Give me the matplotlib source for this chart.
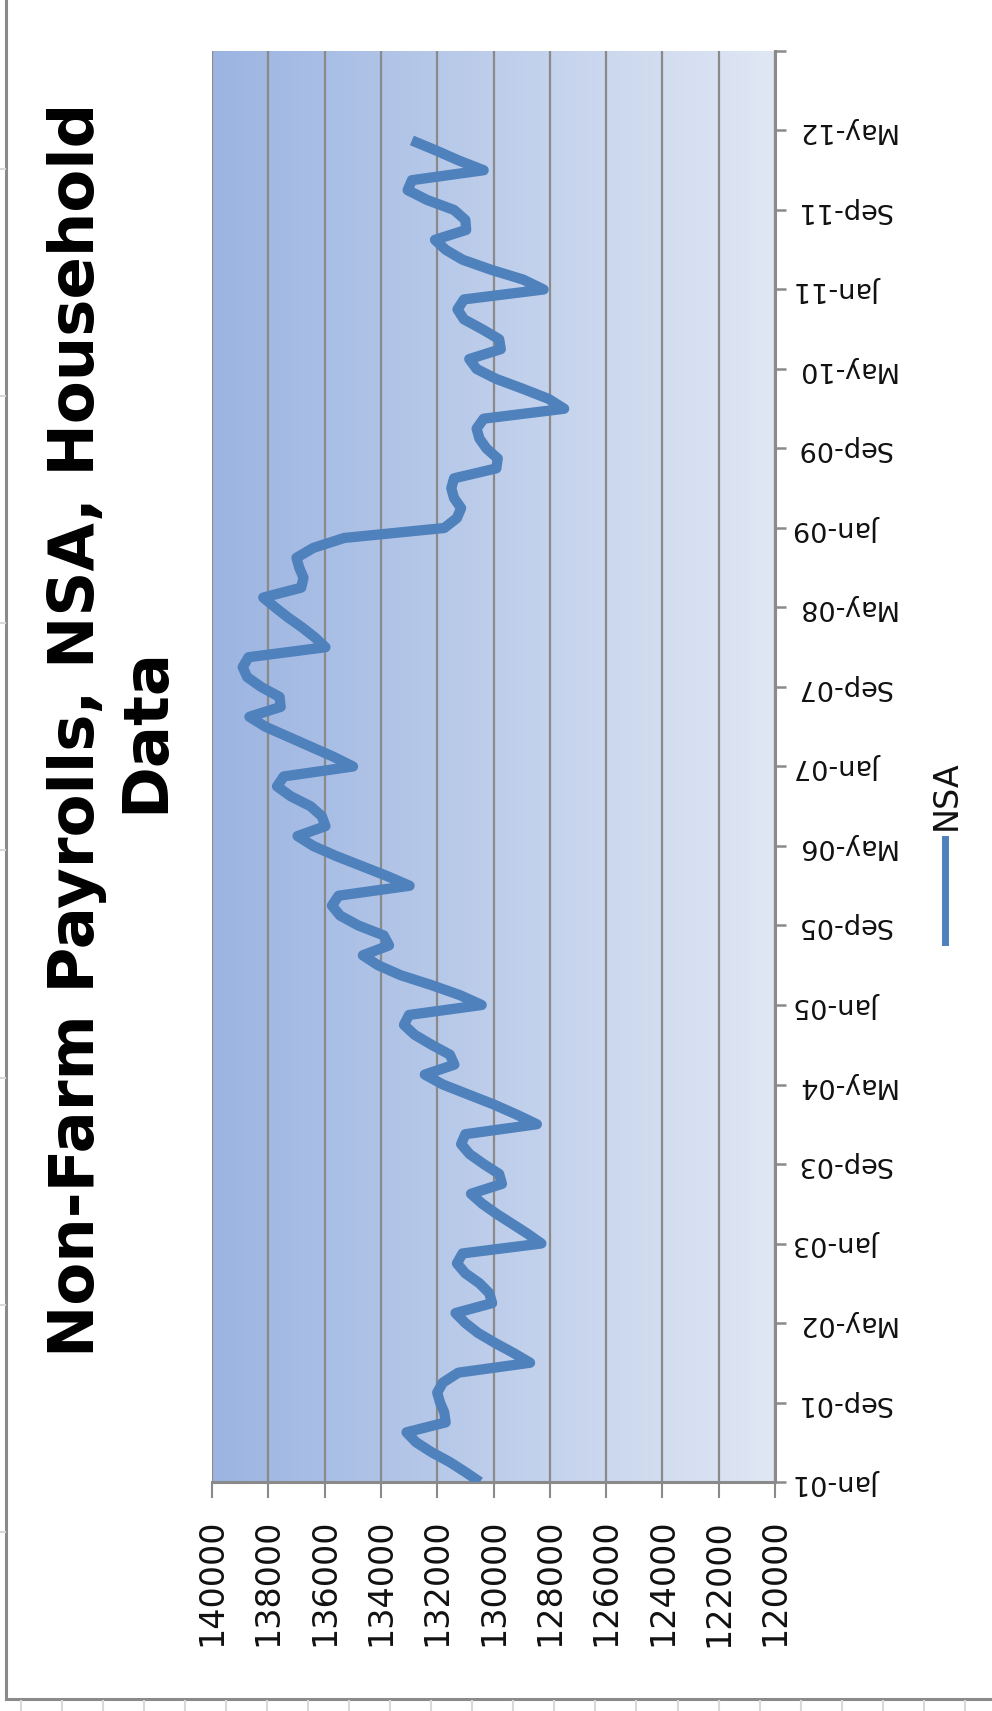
import numpy as np
import matplotlib
matplotlib.use("Agg")
from matplotlib import pyplot as plt
from matplotlib.lines import Line2D

# monthly NSA payrolls, Jan-01 .. Apr-12
nsa_values = [
    130480, 131000, 131550, 132200, 132750, 133090, 131700, 131750, 131900, 132000, 131800, 131250,  # 2001
    128700, 129300, 129950, 130550, 131000, 131350, 130050, 130150, 130500, 131000, 131300, 131100,  # 2002
    128300, 128800, 129350, 129900, 130400, 130800, 129700, 129800, 130350, 130850, 131150, 131000,  # 2003
    128460, 129200, 130000, 130900, 131800, 132440, 131390, 131550, 132200, 132800, 133180, 133000,  # 2004
    130420, 131200, 132200, 133300, 134100, 134640, 133710, 133900, 134800, 135450, 135740, 135500,  # 2005
    132980, 133800, 134700, 135600, 136400, 136960, 135970, 136100, 136500, 137200, 137690, 137450,  # 2006
    134990, 135700, 136500, 137300, 138100, 138670, 137560, 137600, 138250, 138750, 138910, 138700,  # 2007
    135970, 136350, 136800, 137300, 137750, 138180, 136830, 136750, 136900, 137000, 136400, 135300,  # 2008
    131750, 131300, 131150, 131400, 131500, 131400, 129900, 129850, 130250, 130500, 130600, 130350,  # 2009
    127490, 128050, 128950, 129900, 130600, 130860, 129740, 129800, 130400, 131050, 131280, 131050,  # 2010
    128220, 128950, 130100, 131100, 131700, 132080, 130970, 131000, 131400, 132350, 133050, 132900,  # 2011
    130350, 131250, 132050, 132900,  # 2012
]

date_labels = ["Jan-01", "Sep-01", "May-02", "Jan-03", "Sep-03", "May-04", "Jan-05", "Sep-05",
               "May-06", "Jan-07", "Sep-07", "May-08", "Jan-09", "Sep-09", "May-10", "Jan-11",
               "Sep-11", "May-12", ""]
value_ticks = [140000, 138000, 136000, 134000, 132000, 130000, 128000, 126000, 124000, 122000, 120000]

title = "Non-Farm Payrolls, NSA, Household\nData"
series_name = "NSA"

W, H = 992, 1711
GRAY = "#8a8a8a"
LINE_BLUE = "#4F81BD"

fig = plt.figure(figsize=(W / 100, H / 100), dpi=100)

# the whole Excel chart is turned on its side: values run right-to-left, dates bottom-to-top
left, right, top, bottom = 212, 775, 51, 1482
ax = fig.add_axes([left / W, 1 - bottom / H, (right - left) / W, (bottom - top) / H])

months = np.arange(len(nsa_values))
date_ticks = np.arange(0, 8 * len(date_labels), 8)

# gradient plot-area fill (dark at the 140000 side)
grad = np.linspace(0, 1, 256).reshape(1, -1)
cmap = matplotlib.colors.LinearSegmentedColormap.from_list("pa", ["#9bb4e1", "#e0e7f4"])
ax.imshow(grad, cmap=cmap, aspect="auto", extent=(0, 1, 0, 1),
          transform=ax.transAxes, zorder=0, interpolation="bilinear")

ax.plot(nsa_values, months, color=LINE_BLUE, lw=7.4, solid_joinstyle="round",
        solid_capstyle="butt", zorder=3)

ax.set_xlim(140000, 120000)
ax.set_ylim(0, date_ticks[-1])

ax.set_xticks(value_ticks)
ax.set_xticklabels([str(v) for v in value_ticks], rotation=90, fontsize=24,
                   family="DejaVu Sans", color="#111111")
ax.grid(axis="x", color=GRAY, lw=1.6, zorder=1)
ax.set_axisbelow(False)

ax.yaxis.tick_right()
ax.set_yticks(date_ticks)
ax.set_yticklabels(date_labels, rotation=180, fontsize=19.5, family="DejaVu Sans", color="#111111")
for lab in ax.get_yticklabels():
    lab.set_va("center")

ax.tick_params(axis="x", length=11.5, width=1.5, color=GRAY, pad=15)
ax.tick_params(axis="y", length=8, width=1.8, color=GRAY, pad=7)

for side in ["top", "left"]:
    ax.spines[side].set_visible(False)
for side in ["bottom", "right"]:
    ax.spines[side].set_color(GRAY)
    ax.spines[side].set_linewidth(2.2)

# title, turned with the chart
fig.text(112 / W, 1 - 730 / H, title, rotation=90, ha="center", va="center",
         multialignment="center", fontsize=45, fontweight="bold", family="DejaVu Sans")

# legend (bottom of the original chart, now at the right)
fig.add_artist(Line2D([944.5 / W, 944.5 / W], [1 - 839 / H, 1 - 942 / H],
                      color=LINE_BLUE, lw=5, transform=fig.transFigure))
fig.text(946 / W, 1 - 830 / H, series_name, rotation=90, ha="center", va="bottom",
         fontsize=24, family="DejaVu Sans", color="#111111")

# chart-area border and the sheet gridlines peeking out around it
fig.add_artist(Line2D([6 / W, 6 / W], [1, 1 - 1698.5 / H], color=GRAY, lw=2.2,
                      transform=fig.transFigure))
fig.add_artist(Line2D([6 / W, 1], [1 - 1698.5 / H, 1 - 1698.5 / H], color=GRAY, lw=2.2,
                      transform=fig.transFigure))
for k in range(24):
    x = (20.7 + 41.05 * k) / W
    fig.add_artist(Line2D([x, x], [1 - 1701 / H, 0], color="#d9d9d9", lw=1.5,
                          transform=fig.transFigure))
for k in range(7):
    y = 1 - (168.8 + 227.2 * k) / H
    fig.add_artist(Line2D([0, 4.5 / W], [y, y], color="#d9d9d9", lw=1.5,
                          transform=fig.transFigure))

fig.savefig("out.png", dpi=100)
